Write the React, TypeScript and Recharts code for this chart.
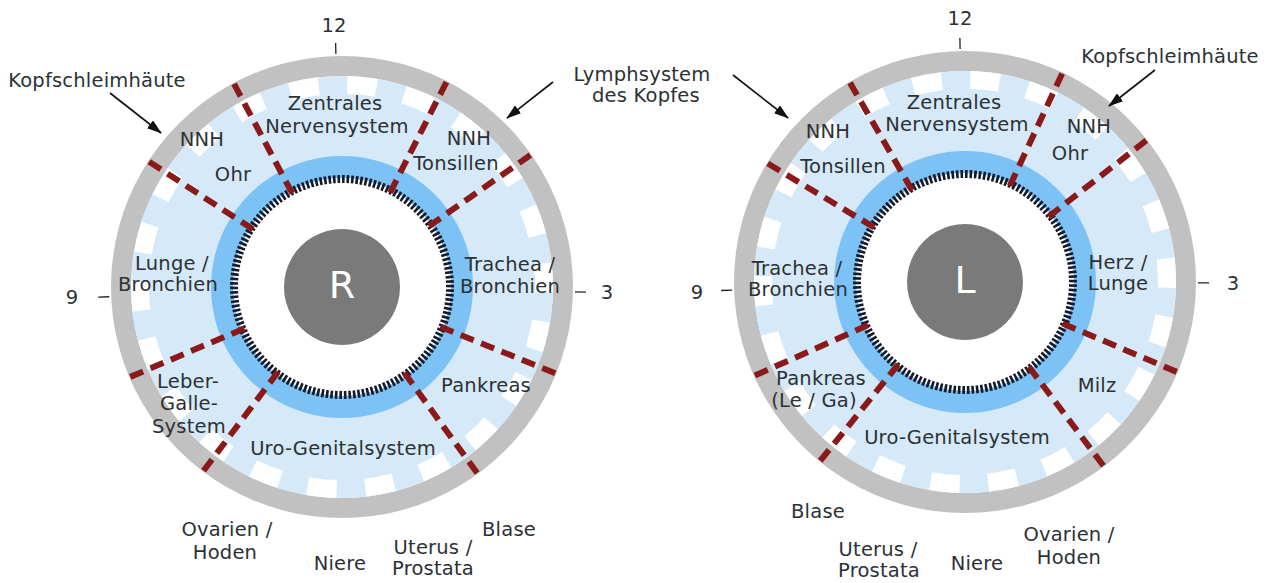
import React from 'react';
import { PieChart, Pie, Cell, RadarChart, PolarGrid } from 'recharts';

const WIDTH = 1274;
const HEIGHT = 583;

// two eyes: right (R) drawn left, left (L) drawn right
const eyeLetters = ['R', 'L'];
const eyeCentersX = [342, 965];
const eyeCentersY = [287, 282];

// region boundaries, clock degrees (clockwise from 12 o'clock)
const boundaryAnglesR = [-57, -28, 27, 55, 112, 144, -143, -113];
const boundaryAnglesL = [-59, -30, 25, 52, 113, 143, -141, -114];
const boundaryAngles = [boundaryAnglesR, boundaryAnglesL];

// hour tick marks 12 / 3 / 9, clock degrees
const hourTickAnglesR = [-1.5, 91.2, -92.4];
const hourTickAnglesL = [-1.2, 90.2, -92];
const hourTickAngles = [hourTickAnglesR, hourTickAnglesL];

// texts
const regionLabelsR: [string, number, number][] = [
  ['Zentrales', 335, 103], ['Nervensystem', 337, 126],
  ['NNH', 202, 139], ['Ohr', 233, 174],
  ['NNH', 469, 138], ['Tonsillen', 456, 163],
  ['Lunge /', 172, 263], ['Bronchien', 168, 284],
  ['Trachea /', 510, 264], ['Bronchien', 510, 286],
  ['Leber-', 188, 381], ['Galle-', 189, 403], ['System', 189, 426],
  ['Pankreas', 486, 385], ['Uro-Genitalsystem', 343, 448],
  ['Ovarien /', 227, 529], ['Hoden', 225, 552], ['Niere', 340, 563],
  ['Uterus /', 433, 547], ['Prostata', 433, 568], ['Blase', 509, 529],
  ['12', 334, 25], ['9', 72, 297], ['3', 607, 292],
];
const regionLabelsL: [string, number, number][] = [
  ['Zentrales', 954, 102], ['Nervensystem', 957, 124],
  ['NNH', 828, 131], ['Tonsillen', 843, 166],
  ['NNH', 1089, 126], ['Ohr', 1070, 153],
  ['Trachea /', 797, 268], ['Bronchien', 798, 289],
  ['Herz /', 1118, 262], ['Lunge', 1118, 283],
  ['Pankreas', 821, 378], ['(Le / Ga)', 814, 400],
  ['Uro-Genitalsystem', 957, 437], ['Milz', 1097, 385],
  ['Blase', 818, 511], ['Uterus /', 878, 549], ['Prostata', 879, 570],
  ['Niere', 977, 563], ['Ovarien /', 1069, 534], ['Hoden', 1069, 557],
  ['12', 960, 18], ['9', 697, 292], ['3', 1233, 283],
];
const annotationLabels: [string, number, number][] = [
  ['Kopfschleimhäute', 97, 80],
  ['Lymphsystem', 642, 74], ['des Kopfes', 646, 95],
  ['Kopfschleimhäute', 1170, 56],
];
// arrows: [x1, y1, x2(tip), y2(tip)]
const arrows: [number, number, number, number][] = [
  [110, 93, 161, 133],
  [553, 82, 507, 118],
  [733, 75, 788, 118],
  [1155, 70, 1109, 106],
];

// decorative ring patterns
const SQUARE_COUNT = 22;
const squareArc = 8.3;
const gapArc = 360 / SQUARE_COUNT - squareArc;
const squareSegments = Array.from({ length: SQUARE_COUNT * 2 }, (_, i) => ({
  value: i % 2 === 0 ? squareArc : gapArc,
  on: i % 2 === 0,
}));
const DOT_COUNT = 150;
const dotSegments = Array.from({ length: DOT_COUNT }, () => ({ value: 1 }));
const fullRing = [{ value: 1 }];

const toPolar = (clock: number) => 90 - clock;
const noMargin = { top: 0, right: 0, bottom: 0, left: 0 };
const FONT = '"DejaVu Sans", Verdana, sans-serif';

function eyeRings(e: number) {
  const cx = eyeCentersX[e];
  const cy = eyeCentersY[e];
  const common = {
    cx, cy, dataKey: 'value', isAnimationActive: false, stroke: 'none',
    startAngle: 90, endAngle: -270,
  };
  return [
    <Pie key={`gray${e}`} {...common} data={fullRing} innerRadius={211} outerRadius={231} fill="#c1c1c1" />,
    <Pie key={`lb${e}`} {...common} data={fullRing} innerRadius={130} outerRadius={211} fill="#d5e9f8" />,
    <Pie key={`sq${e}`} {...common} data={squareSegments} startAngle={88.5} endAngle={-271.5}
      innerRadius={193} outerRadius={211}>
      {squareSegments.map((s, i) => (
        <Cell key={i} fill={s.on ? '#ffffff' : 'transparent'} />
      ))}
    </Pie>,
    <Pie key={`blue${e}`} {...common} data={fullRing} innerRadius={109} outerRadius={131} fill="#7cc2f5" />,
    <Pie key={`dots${e}`} {...common} data={dotSegments} innerRadius={104} outerRadius={112}
      paddingAngle={1.0} fill="#131a2a" />,
    <Pie key={`pupil${e}`} {...common} data={fullRing} innerRadius={0} outerRadius={58} fill="#7a7a7a" />,
  ];
}

function GridLayer({ e, inner, outer, angles, stroke, width, dash }: any) {
  return (
    <div style={{ position: 'absolute', left: 0, top: 0 }}>
      <RadarChart
        width={WIDTH}
        height={HEIGHT}
        cx={eyeCentersX[e]}
        cy={eyeCentersY[e]}
        innerRadius={inner}
        outerRadius={outer}
        startAngle={90}
        endAngle={-270}
        margin={noMargin}
        data={hourTickAngles[e].map((a) => ({ a }))}
      >
        <PolarGrid
          gridType="circle"
          radialLines
          polarRadius={[]}
          polarAngles={angles.map(toPolar)}
          stroke={stroke}
          strokeWidth={width}
          strokeDasharray={dash}
        />
      </RadarChart>
    </div>
  );
}

export default function App() {
  const allLabels = [...regionLabelsR, ...regionLabelsL, ...annotationLabels];
  return (
    <div
      style={{
        position: 'absolute', left: 0, top: 0, width: WIDTH, height: HEIGHT,
        background: '#ffffff', overflow: 'hidden',
      }}
    >
      <div style={{ position: 'absolute', left: 0, top: 0 }}>
        <PieChart width={WIDTH} height={HEIGHT} margin={noMargin}>
          {eyeRings(0)}
          {eyeRings(1)}
        </PieChart>
      </div>
      {[0, 1].map((e) => (
        <GridLayer key={`red${e}`} e={e} inner={106} outer={231} angles={boundaryAngles[e]}
          stroke="#8a1a1a" width={6} dash="14 8" />
      ))}
      {[0, 1].map((e) => (
        <GridLayer key={`tick${e}`} e={e} inner={233} outer={244} angles={hourTickAngles[e]}
          stroke="#222222" width={1.3} dash={undefined} />
      ))}
      <svg
        width={WIDTH}
        height={HEIGHT}
        style={{ position: 'absolute', left: 0, top: 0, pointerEvents: 'none' }}
      >
        <defs>
          <marker id="arrowHead" markerUnits="userSpaceOnUse" markerWidth={15} markerHeight={10}
            refX={14} refY={5} orient="auto">
            <path d="M0,0 L15,5 L0,10 Z" fill="#111" />
          </marker>
        </defs>
        {arrows.map(([x1, y1, x2, y2], i) => (
          <line key={i} x1={x1} y1={y1} x2={x2} y2={y2} stroke="#111" strokeWidth={1.6}
            markerEnd="url(#arrowHead)" />
        ))}
        {allLabels.map(([t, x, y], i) => (
          <text key={i} x={x} y={y} textAnchor="middle" dominantBaseline="central"
            fontFamily={FONT} fontSize={19.5} letterSpacing={0.2} fill="#2c3135">
            {t}
          </text>
        ))}
        {eyeLetters.map((l, e) => (
          <text key={l} x={eyeCentersX[e]} y={eyeCentersY[e] - 2} textAnchor="middle"
            dominantBaseline="central" fontFamily={FONT} fontSize={38} fill="#ffffff">
            {l}
          </text>
        ))}
      </svg>
    </div>
  );
}
